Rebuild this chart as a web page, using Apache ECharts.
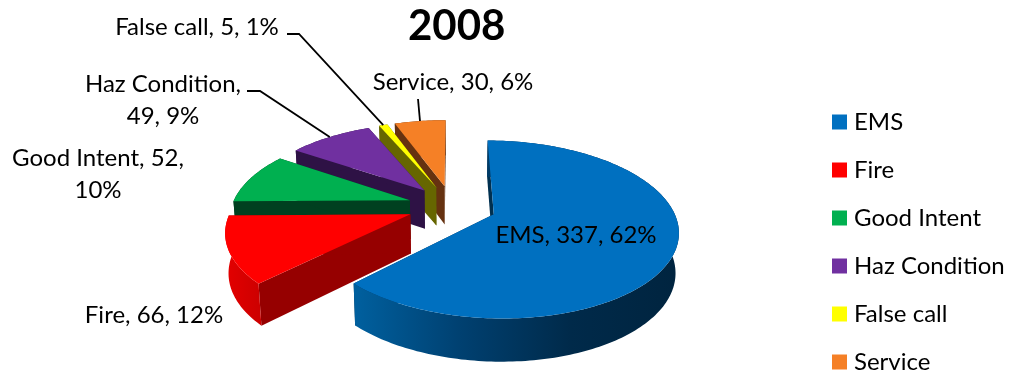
<!DOCTYPE html>
<html>
<head>
<meta charset="utf-8">
<style>html,body{margin:0;padding:0;background:#fff}#chart{width:1009px;height:375px}</style>
<script src="https://cdn.jsdelivr.net/npm/echarts@6/dist/echarts.min.js"></script>
</head>
<body>
<div id="chart"></div>
<script>
// Incident counts for 2008
const titleText = '2008';
const categories = ['EMS', 'Fire', 'Good Intent', 'Haz Condition', 'False call', 'Service'];
const counts = [337, 66, 52, 49, 5, 30];
const percents = [62, 12, 10, 9, 1, 6];

// Colours: top face, radial cut wall, outer rim wall
const topColors = ['#0070C0', '#FF0000', '#00B050', '#7030A0', '#FFFF00', '#F58026'];
const cutColors = ['#003050', '#960000', '#004020', '#2E1245', '#666600', '#663210'];
const rimColors = [
  ['#00609F', '#004070', '#002A4A', '#00243F'],
  ['#E40000', '#CC0000'],
  ['#004020'], ['#2E1245'], ['#666600'], ['#663210']
];

// Label text boxes: anchor, line breaks, and the leader's fixed start points
const labelBoxes = [
  { x: 576, y: 235, text: n => n },
  { x: 154, y: 315, text: n => n },
  { x: 98, y: 174, text: n => n.replace(', 52, ', ', 52,\n') },
  { x: 163, y: 100, text: n => n.replace(', 49, ', ',\n49, ') },
  { x: 197, y: 27, text: n => n },
  { x: 453, y: 82, text: n => n }
];
const leaderPaths = [null, null, null, [[247, 91], [260, 91]], [[287, 34], [299, 34]], [[418, 99]]];

// Pie plane seen in perspective
const view = { cx: 452, cy: 206, a: 178, b: 83.5, k: 0.17, explode: 0.25, depth: 39, shrink: 0.985 };
const fontFamily = 'Lato, Carlito, sans-serif';
const total = counts.reduce((s, v) => s + v, 0);

function project(u, v) {
  const w = 1 - view.k * v;
  return [view.cx + view.a * u / w, view.cy + view.b * v / w, w];
}
function lowered(p) {
  return [view.cx + (p[0] - view.cx) * view.shrink, p[1] + view.depth / Math.sqrt(p[2])];
}
function noStroke(points, fill) {
  return { type: 'polygon', shape: { points: points.map(p => [p[0], p[1]]) }, style: { fill: fill } };
}

function renderSlice(index) {
  return function (params, api) {
    const value = api.value(0);
    const before = counts.slice(0, index).reduce((s, v) => s + v, 0);
    const a0 = before / total * Math.PI * 2;
    const a1 = (before + value) / total * Math.PI * 2;
    const mid = (a0 + a1) / 2;
    const ou = view.explode * Math.sin(mid);
    const ov = -view.explode * Math.cos(mid);
    const rimAt = t => project(ou + Math.sin(t), ov - Math.cos(t));

    const apex = project(ou, ov);
    const steps = Math.max(4, Math.ceil((a1 - a0) * 50));
    const rim = [];
    for (let s = 0; s <= steps; s++) rim.push(rimAt(a0 + (a1 - a0) * s / steps));

    const stops = rimColors[index];
    const rimFill = stops.length === 1 ? stops[0] : {
      type: 'linear', x: 0, y: 0, x2: 1, y2: 0,
      colorStops: stops.map((c, i) => ({ offset: i / (stops.length - 1), color: c }))
    };

    const first = rim[0], last = rim[rim.length - 1];
    const children = [
      noStroke([apex, first, lowered(first), lowered(apex)], cutColors[index]),
      noStroke([apex, last, lowered(last), lowered(apex)], cutColors[index]),
      noStroke(rim.concat(rim.map(lowered).reverse()), rimFill),
      noStroke([apex].concat(rim), topColors[index])
    ];

    const path = leaderPaths[index];
    if (path) {
      children.push({
        type: 'polyline',
        shape: { points: path.concat([rimAt(mid).slice(0, 2)]) },
        style: { stroke: '#000', lineWidth: 1.8, fill: null }
      });
    }
    const box = labelBoxes[index];
    const full = categories[index] + ', ' + value + ', ' + percents[index] + '%';
    children.push({
      type: 'text',
      x: box.x, y: box.y,
      style: {
        text: box.text(full),
        fill: '#000',
        font: '24px ' + fontFamily,
        lineHeight: 32,
        align: 'center',
        verticalAlign: 'middle'
      }
    });
    return { type: 'group', children: children };
  };
}

const chart = echarts.init(document.getElementById('chart'));
chart.setOption({
  animation: false,
  title: {
    text: titleText,
    left: 408, top: 5,
    padding: 0,
    textStyle: { fontFamily: fontFamily, fontSize: 42, fontWeight: 'bold', color: '#000' }
  },
  legend: {
    orient: 'vertical',
    left: 832, top: 110,
    itemWidth: 15, itemHeight: 15,
    itemGap: 24,
    padding: 0,
    icon: 'rect',
    selectedMode: false,
    data: categories.map((name, i) => ({ name: name, itemStyle: { color: topColors[i] } })),
    textStyle: { fontFamily: fontFamily, fontSize: 24, color: '#000', padding: [0, 0, 0, 2] }
  },
  series: categories.map((name, i) => ({
    type: 'custom',
    name: name,
    coordinateSystem: 'none',
    silent: true,
    // Far slices are painted first so nearer ones cover them
    z: 20 - i,
    itemStyle: { color: topColors[i] },
    renderItem: renderSlice(i),
    data: [[counts[i]]]
  }))
});
</script>
</body>
</html>
